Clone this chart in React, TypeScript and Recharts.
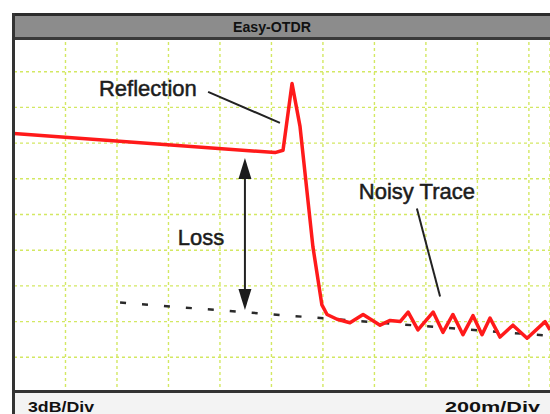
import {
  ComposedChart,
  CartesianGrid,
  Line,
  ReferenceDot,
  ReferenceLine,
  XAxis,
  YAxis,
} from 'recharts';

// distance along the fibre (m) and trace level (dB)
const distanceM = [0, 1014, 1045, 1080, 1111, 1161, 1196, 1216, 1255, 1305, 1356, 1422, 1461, 1500, 1531, 1569, 1628, 1666, 1705, 1744, 1783, 1818, 1849, 1888, 1938, 1993, 2063, 2082];
const levelDb = [21.8, 20.2, 20.4, 26.0, 22.4, 12.3, 7.4, 6.6, 6.2, 5.9, 6.6, 5.7, 6.1, 6.0, 6.8, 5.3, 6.8, 5.1, 6.6, 4.9, 6.5, 4.9, 6.3, 4.7, 5.7, 4.6, 6.0, 5.3];

// backscatter level extended back under the event
const extrapDistanceM = [412, 2082];
const extrapDb = [7.6, 4.8];

const xTicks = [0, 200, 400, 600, 800, 1000, 1200, 1400, 1600, 1800, 2000];
const yTicks = [0, 3, 6, 9, 12, 15, 18, 21, 24, 27, 30];

const trace = distanceM.map((d, i) => ({ d, db: levelDb[i] }));
const extrap = extrapDistanceM.map((d, i) => ({ d, db: extrapDb[i] }));

const textStyle = {
  fontFamily: 'Liberation Sans, Arial, sans-serif',
  fontSize: 22,
  fill: '#1c1c1c',
  stroke: '#1c1c1c',
  strokeWidth: 0.5,
};

const label = (text: string) => (p: any) => (
  <text x={p.cx} y={p.cy} textAnchor="middle" dominantBaseline="central" style={textStyle}>
    {text}
  </text>
);

const arrowHead = (up: boolean) => (p: any) => {
  const { cx, cy } = p;
  const d = up
    ? `M${cx},${cy} L${cx - 6.5},${cy + 21} L${cx + 6.5},${cy + 21} Z`
    : `M${cx},${cy} L${cx - 6.5},${cy - 21} L${cx + 6.5},${cy - 21} Z`;
  return <path d={d} fill="#1c1c1c" />;
};

function Frame() {
  return (
    <svg
      width={550}
      height={414}
      style={{ position: 'absolute', left: 0, top: 0, pointerEvents: 'none' }}
    >
      <rect x={12} y={13} width={540} height={27} fill="#8c8c8c" />
      <rect x={12} y={13} width={540} height={3} fill="#2c2c2c" />
      <rect x={12} y={37} width={540} height={3} fill="#3a3a3a" />
      <text
        x={233}
        y={32}
        textLength={78}
        lengthAdjust="spacingAndGlyphs"
        style={{ fontFamily: 'Liberation Sans, Arial, sans-serif', fontSize: 15, fontWeight: 'bold', fill: '#111' }}
      >
        Easy-OTDR
      </text>
      <rect x={12} y={390} width={540} height={24} fill="#f3f3f3" />
      <rect x={12} y={390} width={540} height={3} fill="#333" />
      <rect x={12} y={13} width={3} height={401} fill="#333" />
      <text
        x={28}
        y={412}
        textLength={66}
        lengthAdjust="spacingAndGlyphs"
        style={{ fontFamily: 'Liberation Sans, Arial, sans-serif', fontSize: 14, fontWeight: 'bold', fill: '#111' }}
      >
        3dB/Div
      </text>
      <text
        x={445}
        y={412}
        textLength={95}
        lengthAdjust="spacingAndGlyphs"
        style={{ fontFamily: 'Liberation Sans, Arial, sans-serif', fontSize: 14, fontWeight: 'bold', fill: '#111' }}
      >
        200m/Div
      </text>
    </svg>
  );
}

export default function App() {
  return (
    <div style={{ position: 'absolute', left: 0, top: 0, width: 550, height: 414, background: '#fff' }}>
      <ComposedChart
        width={550}
        height={414}
        margin={{ top: 36, right: 0, bottom: 21, left: 14 }}
      >
        <XAxis
          type="number"
          dataKey="d"
          domain={[0, 2082]}
          ticks={xTicks}
          hide
        />
        <YAxis type="number" dataKey="db" domain={[0, 30]} ticks={yTicks} hide />
        <CartesianGrid stroke="#d3e862" strokeDasharray="3 3" strokeWidth={1.4} />
        <Line
          data={extrap}
          dataKey="db"
          stroke="#2a2a2a"
          strokeWidth={2.5}
          strokeDasharray="6 16"
          dot={false}
          isAnimationActive={false}
        />
        <Line
          data={trace}
          dataKey="db"
          stroke="#ff1a1a"
          strokeWidth={3.5}
          strokeLinejoin="round"
          dot={false}
          isAnimationActive={false}
        />
        <ReferenceLine
          segment={[{ x: 754, y: 25.3 }, { x: 1033, y: 22.7 }]}
          stroke="#222"
          strokeWidth={2}
        />
        <ReferenceLine
          segment={[{ x: 1565, y: 15.5 }, { x: 1655, y: 8.1 }]}
          stroke="#222"
          strokeWidth={2}
        />
        <ReferenceLine
          segment={[{ x: 897, y: 19.0 }, { x: 897, y: 7.5 }]}
          stroke="#222"
          strokeWidth={2}
        />
        <ReferenceDot x={897} y={19.75} r={0} shape={arrowHead(true)} />
        <ReferenceDot x={897} y={6.97} r={0} shape={arrowHead(false)} />
        <ReferenceDot x={520} y={25.6} r={0} shape={label('Reflection')} />
        <ReferenceDot x={726} y={13.1} r={0} shape={label('Loss')} />
        <ReferenceDot x={1565} y={16.9} r={0} shape={label('Noisy Trace')} />
      </ComposedChart>
      <Frame />
    </div>
  );
}
